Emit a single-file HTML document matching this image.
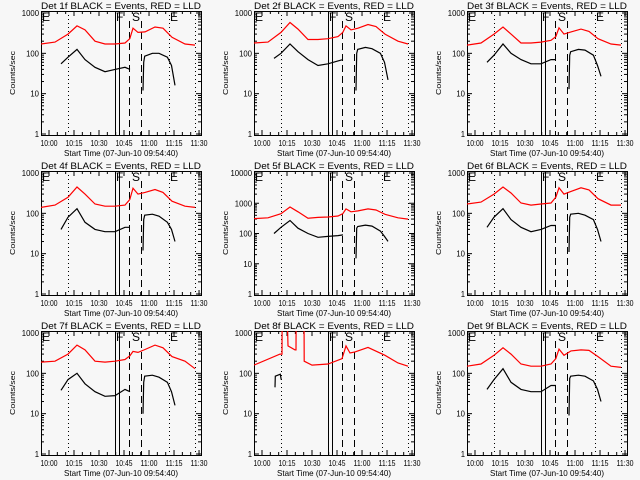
<!DOCTYPE html>
<html><head><meta charset="utf-8">
<style>
html,body{margin:0;padding:0;background:#f7f7f7;}
svg{display:block;font-family:"Liberation Sans",sans-serif;}
</style></head>
<body>
<svg id="chart" width="640" height="480" viewBox="0 0 640 480" xmlns="http://www.w3.org/2000/svg">
<rect x="0" y="0" width="640" height="480" fill="#f7f7f7"/>
</svg>
<script>
// Time in minutes after 10:00; axis starts 09:54:40
const xTickLabels = ["10:00","10:15","10:30","10:45","11:00","11:15","11:30"];
const xTickTimes = [0,15,30,45,60,75,90];
const redTimes = [-4.8,3.6,11.4,16.8,21.6,27.6,33.6,39.6,45.6,48.5,50.4,53.4,57.6,63.6,68.4,73.8,81.6,87.6];
const blackTimes1 = [7.2,11.4,16.8,21.6,27.6,33.6,39.6,45.6,48.6];
const blackTimes2 = [56.4,56.8,57.4,62,66,71,73.5,75.6];
const detNames = ["1f","2f","3f","4f","5f","6f","7f","8f","9f"];
const red1 = [170,190,300,480,380,200,170,170,180,230,420,330,340,450,420,250,170,160];
const red2 = [180,190,330,580,400,220,220,230,260,330,480,380,420,520,460,300,200,170];
const red3 = [160,180,300,450,300,180,180,190,210,260,430,300,340,400,350,230,170,160];
const red4 = [140,160,250,450,300,170,150,150,160,220,420,300,330,390,330,200,150,140];
const red5 = [310,330,450,750,520,320,340,350,380,450,650,520,560,650,600,430,330,300];
const red6 = [170,190,300,450,320,180,160,170,180,250,430,300,350,430,380,230,160,160];
const red7 = [190,200,300,500,380,200,190,200,220,270,350,330,390,500,430,260,200,130];
const red9 = [150,170,280,430,300,170,150,150,170,230,400,280,360,380,370,260,150,140];
const blackA1 = [55,80,125,70,45,35,40,45,40];
const blackA2 = [75,100,170,110,70,50,55,65,70];
const blackA3 = [60,90,170,100,70,55,55,70,70];
const blackA4 = [40,80,130,60,40,35,35,45,45];
const blackA5 = [100,160,270,150,100,75,80,85,90];
const blackA6 = [45,80,130,70,45,35,40,50,50];
const blackA7 = [38,70,100,55,35,27,28,40,35];
const blackA9 = [40,70,130,60,40,35,35,50,50];
const blackB1 = [12,60,85,100,100,80,50,16];
const blackB2 = [12,100,125,140,130,100,60,22];
const blackB3 = [13,90,110,125,120,90,50,27];
const blackB4 = [12,70,90,95,85,60,40,20];
const blackB5 = [15,150,170,190,175,120,80,55];
const blackB6 = [11,80,95,100,90,70,40,20];
const blackB7 = [10,60,85,90,80,60,35,16];
const blackB9 = [9,75,85,90,85,65,40,20];
const red8Times = [-4.8,10.8,12,12.1,15,15.6,19.8,20.4,20.5,25.2,25.3,30,39.6,48,50.4,52.8,55.8,63.6,73.8,81.6,87.6];
const red8 = [160,300,300,5000,5000,480,380,380,5000,5000,200,160,170,230,480,320,340,440,280,180,150];
const black8Times = [7.8,8,9.5,11,11.5];
const black8 = [45,85,90,95,70];
const dottedTimes = [11.4,72,87.6];
const solidTimes = [39.6,42];
const dashedTimes = [48,55.2];

const NS = "http://www.w3.org/2000/svg";
const svg = document.getElementById("chart");
function mk(tag, attrs, parent){
  const e = document.createElementNS(NS, tag);
  for (const k in attrs) e.setAttribute(k, attrs[k]);
  (parent||svg).appendChild(e); return e;
}
const panelSeries = [
  [red1,blackA1,blackB1],[red2,blackA2,blackB2],[red3,blackA3,blackB3],
  [red4,blackA4,blackB4],[red5,blackA5,blackB5],[red6,blackA6,blackB6],
  [red7,blackA7,blackB7],null,[red9,blackA9,blackB9]];

for (let p=0;p<9;p++){
  const ox = (p%3)*213, oy = Math.floor(p/3)*160;
  const L = ox+41, R = ox+201, T = oy+11, B = oy+135;
  const maxDec = (p===4)?4:3;
  const g = mk("g",{});
  
  
  const xs = t => ox+49 + t*1.667;
  const ys = v => { const lv=Math.log10(v); return oy+134 - lv*(121/maxDec); };
  const clip = mk("clipPath",{id:"c"+p},g);
  mk("rect",{x:L,y:T,width:R-L,height:B-T},clip);
  const tt = mk("text",{x:L,y:oy+9,"font-size":"9",fill:"#000",textLength:160,lengthAdjust:"spacingAndGlyphs"},g);
  tt.textContent = "Det "+detNames[p]+" BLACK = Events, RED = LLD";
  
  
  const box = mk("rect",{x:L+0.5,y:T+0.5,width:R-L,height:B-T,fill:"none",stroke:"#000","stroke-width":1},g);
  
  
  for (let d=0; d<=maxDec; d++){
    const y = ys(Math.pow(10,d));
    mk("line",{x1:L,x2:L+5,y1:y,y2:y,stroke:"#000"},g);
    mk("line",{x1:R-5,x2:R,y1:y,y2:y,stroke:"#000"},g);
    const s = String(Math.pow(10,d));
    const lb = mk("text",{x:L-2,y:y+3,"font-size":"8","text-anchor":"end",fill:"#000",textLength:4.3*s.length,lengthAdjust:"spacingAndGlyphs"},g);
    lb.textContent = s;
    
    
    if (d<maxDec) for (let m=2;m<10;m++){
      const ym = ys(m*Math.pow(10,d));
      mk("line",{x1:L,x2:L+3,y1:ym,y2:ym,stroke:"#000"},g);
      mk("line",{x1:R-3,x2:R,y1:ym,y2:ym,stroke:"#000"},g);
    }
  }
  for (let i=0;i<xTickTimes.length;i++){
    const x = xs(xTickTimes[i]);
    mk("line",{x1:x,x2:x,y1:B,y2:B-5,stroke:"#000"},g);
    mk("line",{x1:x,x2:x,y1:T,y2:T+5,stroke:"#000"},g);
    const lb = mk("text",{x:x-8.5,y:oy+146,"font-size":"8",fill:"#000",textLength:17,lengthAdjust:"spacingAndGlyphs"},g);
    lb.textContent = xTickLabels[i];
    
    
  }
  for (let t=-5;t<=95;t+=5){ if (t%15===0) continue; const x=xs(t); if(x<L||x>R) continue;
    mk("line",{x1:x,x2:x,y1:B,y2:B-3,stroke:"#000"},g);
    mk("line",{x1:x,x2:x,y1:T,y2:T+3,stroke:"#000"},g);
  }
  const xt = mk("text",{x:ox+64,y:oy+156,"font-size":"8.5",fill:"#000",textLength:114,lengthAdjust:"spacingAndGlyphs"},g);
  xt.textContent = "Start Time (07-Jun-10 09:54:40)";
  
  
  const yt = mk("text",{x:-22,y:0,"font-size":"7.5",fill:"#000",textLength:44,lengthAdjust:"spacingAndGlyphs",transform:"translate("+(ox+15)+","+(oy+73)+") rotate(-90)"},g);
  yt.textContent = "Counts/sec";
  
  
  dottedTimes.forEach(t=>{ const x=Math.round(xs(t))+0.5;
    mk("line",{x1:x,x2:x,y1:T,y2:B,stroke:"#000","stroke-dasharray":"1,3"},g);});
  solidTimes.forEach(t=>{ const x=Math.round(xs(t))+0.5;
    mk("line",{x1:x,x2:x,y1:T,y2:B,stroke:"#000"},g);});
  dashedTimes.forEach(t=>{ const x=Math.round(xs(t))+0.5;
    mk("line",{x1:x,x2:x,y1:T+10,y2:B,stroke:"#000","stroke-dasharray":"7,4"},g);});
  [["E",L+1],["F",xs(solidTimes[0])+1],["S",xs(dashedTimes[0])+3],["E",xs(dottedTimes[1])+1]].forEach(a=>{
    const m = mk("text",{x:a[1],y:T+10,"font-size":"12",fill:"#000"},g);
    m.textContent = a[0];
    
    
  });
  const line = (times, vals, color, name) => {
    const pts = times.map((t,i)=>xs(t).toFixed(1)+","+ys(vals[i]).toFixed(1)).join(" ");
    const pl = mk("polyline",{points:pts,fill:"none",stroke:color,"stroke-width":1.2,"clip-path":"url(#c"+p+")"},g);
    
    
  };
  if (p===7){
    line(red8Times, red8, "#ff0000", "lld-series");
    line(black8Times, black8, "#000", "events-series");
  } else {
    const s = panelSeries[p];
    line(redTimes, s[0], "#ff0000", "lld-series");
    line(blackTimes1, s[1], "#000", "events-series-a");
    line(blackTimes2, s[2], "#000", "events-series-b");
  }
}
</script>
</body></html>
